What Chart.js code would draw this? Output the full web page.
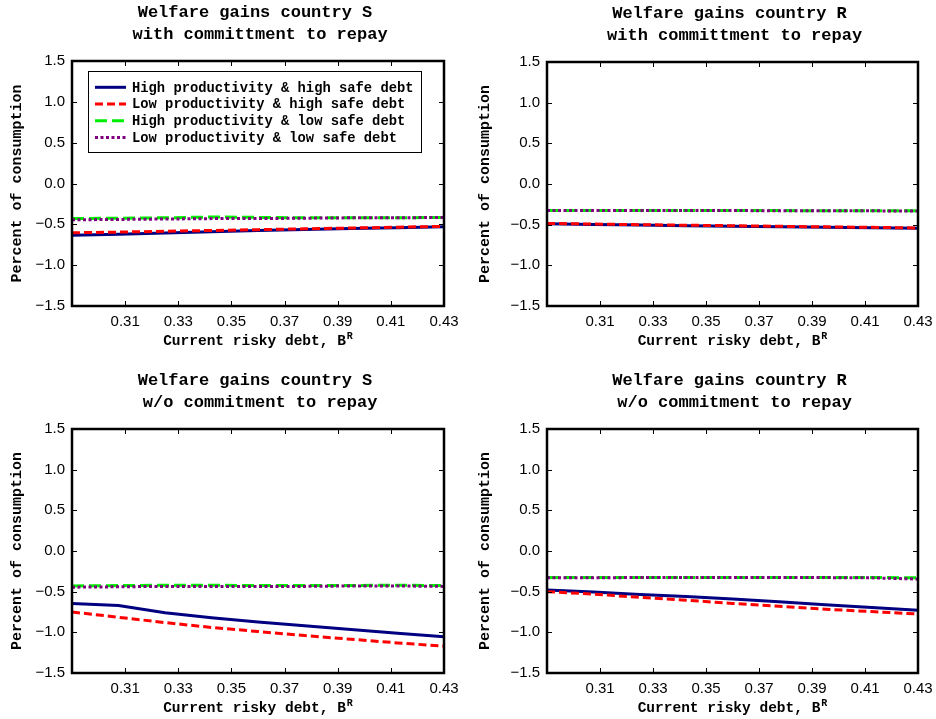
<!DOCTYPE html>
<html><head><meta charset="utf-8">
<script src="https://cdn.jsdelivr.net/npm/chart.js@4/dist/chart.umd.min.js"></script>
<style>
html,body{margin:0;padding:0;background:#fff;}
#wrap{position:relative;width:936px;height:719px;overflow:hidden;background:#fff;}
canvas{position:absolute;}
</style></head><body>
<div id="wrap">
<canvas id="c1" width="468" height="360" style="left:0px;top:0px"></canvas>
<canvas id="c2" width="468" height="360" style="left:468px;top:0px"></canvas>
<canvas id="c3" width="468" height="359" style="left:0px;top:360px"></canvas>
<canvas id="c4" width="468" height="359" style="left:468px;top:360px"></canvas>
</div>
<script>
// ---------- data ----------
const xValues = [0.29, 0.3075, 0.325, 0.3425, 0.36, 0.3775, 0.395, 0.4125, 0.43];
const xTicks = [0.31, 0.33, 0.35, 0.37, 0.39, 0.41, 0.43];
const yTicks = [-1.5, -1.0, -0.5, 0.0, 0.5, 1.0, 1.5];
const seriesLabels = [
  "High productivity & high safe debt",
  "Low productivity & high safe debt",
  "High productivity & low safe debt",
  "Low productivity & low safe debt"
];
const titleS_with = ["Welfare gains country S", " with committment to repay"];
const titleR_with = ["Welfare gains country R", " with committment to repay"];
const titleS_wo = ["Welfare gains country S", " w/o commitment to repay"];
const titleR_wo = ["Welfare gains country R", " w/o commitment to repay"];
const xLabel = "Current risky debt, B";
const xLabelSup = "R";
const yLabel = "Percent of consumption";

// Country S, with commitment
const sWith_highHigh = [-0.635, -0.62, -0.605, -0.59, -0.575, -0.563, -0.552, -0.541, -0.53];
const sWith_lowHigh  = [-0.603, -0.595, -0.585, -0.575, -0.565, -0.555, -0.545, -0.535, -0.525];
const sWith_highLow  = [-0.43, -0.425, -0.42, -0.41, -0.415, -0.42, -0.42, -0.42, -0.415];
const sWith_lowLow   = [-0.445, -0.44, -0.435, -0.43, -0.43, -0.425, -0.42, -0.42, -0.415];
// Country R, with commitment
const rWith_highHigh = [-0.49, -0.497, -0.505, -0.512, -0.518, -0.525, -0.532, -0.538, -0.545];
const rWith_lowHigh  = [-0.485, -0.492, -0.50, -0.507, -0.513, -0.52, -0.527, -0.533, -0.54];
const rWith_highLow  = [-0.325, -0.325, -0.325, -0.325, -0.326, -0.327, -0.328, -0.329, -0.33];
const rWith_lowLow   = [-0.325, -0.325, -0.325, -0.326, -0.327, -0.328, -0.329, -0.33, -0.332];
// Country S, without commitment
const sWo_highHigh = [-0.645, -0.67, -0.76, -0.82, -0.873, -0.92, -0.965, -1.01, -1.055];
const sWo_lowHigh  = [-0.75, -0.815, -0.88, -0.94, -0.99, -1.04, -1.085, -1.13, -1.17];
const sWo_highLow  = [-0.43, -0.425, -0.42, -0.42, -0.425, -0.425, -0.425, -0.42, -0.425];
const sWo_lowLow   = [-0.445, -0.44, -0.435, -0.435, -0.435, -0.435, -0.43, -0.43, -0.435];
// Country R, without commitment
const rWo_highHigh = [-0.48, -0.505, -0.535, -0.56, -0.59, -0.625, -0.66, -0.695, -0.73];
const rWo_lowHigh  = [-0.50, -0.53, -0.57, -0.605, -0.645, -0.68, -0.715, -0.745, -0.775];
const rWo_highLow  = [-0.325, -0.325, -0.325, -0.325, -0.325, -0.325, -0.325, -0.325, -0.33];
const rWo_lowLow   = [-0.33, -0.328, -0.327, -0.327, -0.327, -0.327, -0.327, -0.33, -0.345];

// ---------- styles ----------
const seriesStyles = [
  {borderColor:'#000080', borderWidth:3, borderDash:[], order:4},
  {borderColor:'#ff0000', borderWidth:3, borderDash:[8,4], order:3},
  {borderColor:'#00ee00', borderWidth:3, borderDash:[12,5], order:2},
  {borderColor:'#800080', borderWidth:3, borderDash:[3,2.5], order:1}
];
const MONO = '"Liberation Mono", "DejaVu Sans Mono", monospace';
const SANS = '"Liberation Sans", Arial, sans-serif';

function toPoints(arr){ return arr.map((v,i)=>({x:xValues[i], y:v})); }

const decor = {
  id:'decor',
  afterDatasetsDraw(chart, args, o){
    const ctx = chart.ctx, a = chart.chartArea, x = chart.scales.x, y = chart.scales.y;
    ctx.save();
    ctx.strokeStyle = '#000'; ctx.lineWidth = 1; ctx.setLineDash([]);
    ctx.beginPath();
    xTicks.forEach(v=>{
      const px = Math.round(x.getPixelForValue(v)) + 0.5;
      ctx.moveTo(px, a.bottom); ctx.lineTo(px, a.bottom-5);
      ctx.moveTo(px, a.top); ctx.lineTo(px, a.top+5);
    });
    yTicks.forEach(v=>{
      const py = Math.round(y.getPixelForValue(v)) + 0.5;
      ctx.moveTo(a.left, py); ctx.lineTo(a.left+5, py);
      ctx.moveTo(a.right, py); ctx.lineTo(a.right-5, py);
    });
    ctx.stroke();
    ctx.lineWidth = 2.5;
    ctx.strokeRect(a.left, a.top, a.right-a.left, a.bottom-a.top);
    if (o.legend){
      const bx = a.left+16, by = a.top+10, bw = 333, bh = 81;
      ctx.fillStyle = '#fff';
      ctx.fillRect(bx, by, bw, bh);
      ctx.lineWidth = 1;
      ctx.strokeStyle = '#000';
      ctx.strokeRect(bx+0.5, by+0.5, bw, bh);
      ctx.font = 'bold 13.8px ' + MONO;
      ctx.textBaseline = 'middle'; ctx.textAlign = 'left';
      chart.data.datasets.forEach((ds,i)=>{
        const ry = by + 16.3 + i*16.7;
        ctx.save();
        ctx.strokeStyle = ds.borderColor; ctx.lineWidth = ds.borderWidth;
        ctx.setLineDash(ds.borderDash || []);
        ctx.beginPath(); ctx.moveTo(bx+7, ry); ctx.lineTo(bx+38, ry); ctx.stroke();
        ctx.restore();
        ctx.fillStyle = '#000';
        ctx.fillText(ds.label, bx+44, ry+1);
      });
    }
    ctx.restore();
  },
  afterDraw(chart, args, o){
    const ctx = chart.ctx, a = chart.chartArea;
    const cx = (a.left + a.right)/2;
    ctx.save();
    ctx.fillStyle = '#000';
    ctx.textAlign = 'center'; ctx.textBaseline = 'middle';
    ctx.font = 'bold 17px ' + MONO;
    ctx.fillText(o.title[0], cx - 3, a.top - 48);
    ctx.fillText(o.title[1], cx - 3, a.top - 26);
    // x label with superscript
    ctx.font = 'bold 14.5px ' + MONO;
    const w1 = ctx.measureText(xLabel).width;
    ctx.font = 'bold 10px ' + MONO;
    const w2 = ctx.measureText(xLabelSup).width;
    const sx = cx - (w1 + w2 + 1)/2;
    ctx.textAlign = 'left';
    ctx.font = 'bold 14.5px ' + MONO;
    ctx.fillText(xLabel, sx, a.bottom + 35);
    ctx.font = 'bold 10px ' + MONO;
    ctx.fillText(xLabelSup, sx + w1 + 1, a.bottom + 30);
    // y label
    ctx.translate(17, (a.top + a.bottom)/2);
    ctx.rotate(-Math.PI/2);
    ctx.textAlign = 'center';
    ctx.font = 'bold 15px ' + MONO;
    ctx.fillText(yLabel, 0, 0);
    ctx.restore();
  }
};

function makeChart(id, series, title, area, legend){
  const cv = document.getElementById(id);
  const W = cv.width, H = cv.height;
  const datasets = series.map((arr,i)=>Object.assign({
    label: seriesLabels[i],
    data: toPoints(arr),
    pointRadius: 0, fill:false, tension:0, borderCapStyle:'butt'
  }, seriesStyles[i]));
  return new Chart(cv, {
    type:'line',
    data:{datasets},
    plugins:[decor],
    options:{
      responsive:false, animation:false, devicePixelRatio:1,
      events:[],
      layout:{padding:{left:0, top:area.top, right:W-area.right, bottom:0}},
      plugins:{
        legend:{display:false}, tooltip:{enabled:false}, title:{display:false},
        decor:{title, legend}
      },
      scales:{
        x:{type:'linear', min:0.29, max:0.43,
          grid:{display:false, drawTicks:false}, border:{display:false},
          afterBuildTicks:s=>{ s.ticks = xTicks.map(v=>({value:v})); },
          afterFit:s=>{ s.height = H - area.bottom; s.paddingLeft = 0; s.paddingRight = 0; },
          ticks:{autoSkip:false, maxRotation:0, padding:7, color:'#000',
            font:{family:SANS, size:15},
            callback:v=>Number(v).toFixed(2)}
        },
        y:{type:'linear', min:-1.5, max:1.5,
          grid:{display:false, drawTicks:false}, border:{display:false},
          afterBuildTicks:s=>{ s.ticks = yTicks.map(v=>({value:v})); },
          afterFit:s=>{ s.width = area.left; s.paddingTop = 0; s.paddingBottom = 0; },
          ticks:{autoSkip:false, padding:7, color:'#000',
            font:{family:SANS, size:15},
            callback:v=>(v<0?'\u2212':'') + Math.abs(v).toFixed(1)}
        }
      }
    }
  });
}

makeChart('c1', [sWith_highHigh, sWith_lowHigh, sWith_highLow, sWith_lowLow], titleS_with,
  {left:72, right:444, top:61, bottom:306}, true);
makeChart('c2', [rWith_highHigh, rWith_lowHigh, rWith_highLow, rWith_lowLow], titleR_with,
  {left:79, right:450, top:62, bottom:306}, false);
makeChart('c3', [sWo_highHigh, sWo_lowHigh, sWo_highLow, sWo_lowLow], titleS_wo,
  {left:72, right:444, top:69, bottom:313}, false);
makeChart('c4', [rWo_highHigh, rWo_lowHigh, rWo_highLow, rWo_lowLow], titleR_wo,
  {left:79, right:450, top:69, bottom:313}, false);
</script>
</body></html>
